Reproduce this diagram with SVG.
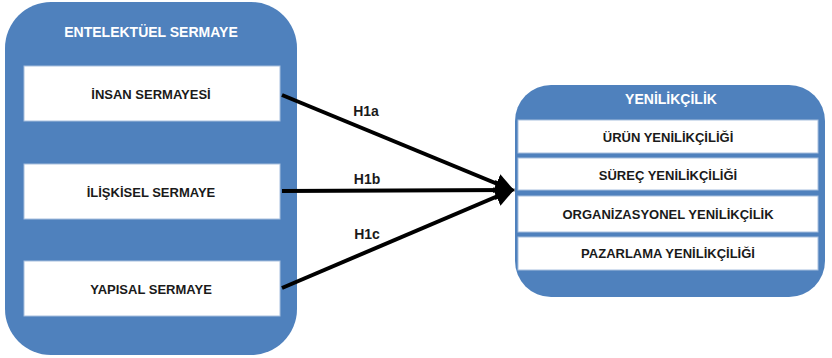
<svg xmlns="http://www.w3.org/2000/svg" width="832" height="358" viewBox="0 0 832 358">
<style>
.panel{fill:#4F81BD;}
.box{fill:#FFFFFF;stroke:#A7BFDE;stroke-width:1;}
.title{font-family:"Liberation Sans",Arial,sans-serif;font-weight:bold;font-size:14px;fill:#FFFFFF;text-anchor:middle;}
.lbl{font-family:"Liberation Sans",Arial,sans-serif;font-weight:bold;font-size:13px;fill:#1A1A1A;text-anchor:middle;}
.conn{stroke:#000000;stroke-width:4;fill:none;}
.hl{font-family:"Liberation Sans",Arial,sans-serif;font-weight:bold;font-size:14px;fill:#1A1A1A;text-anchor:middle;}
</style>
<defs>
<marker id="ah" markerWidth="5" markerHeight="5" refX="4.2" refY="2.5" orient="auto" markerUnits="strokeWidth">
<path d="M0,0 L5,2.5 L0,5 Z" fill="#000000"/>
</marker>
</defs>
<g id="entelektuel-sermaye">
<rect class="panel" x="5" y="2" width="292" height="353" rx="46" ry="46"/>
<text class="title" x="151" y="37">ENTELEKTÜEL SERMAYE</text>
</g>
<g id="insan-sermayesi">
<rect class="box" x="24" y="66" width="256" height="55"/>
<text class="lbl" x="151" y="99">İNSAN SERMAYESİ</text>
</g>
<g id="iliskisel-sermaye">
<rect class="box" x="24" y="164" width="256" height="55"/>
<text class="lbl" x="151" y="197">İLİŞKİSEL SERMAYE</text>
</g>
<g id="yapisal-sermaye">
<rect class="box" x="24" y="261" width="256" height="55"/>
<text class="lbl" x="151" y="294">YAPISAL SERMAYE</text>
</g>
<g id="yenilikcilik">
<rect class="panel" x="515" y="85" width="310" height="212" rx="36" ry="36"/>
<text class="title" x="671" y="104">YENİLİKÇİLİK</text>
</g>
<g id="urun-yenilikciligi">
<rect class="box" x="518" y="120" width="300" height="33"/>
<text class="lbl" x="668" y="142">ÜRÜN YENİLİKÇİLİĞİ</text>
</g>
<g id="surec-yenilikciligi">
<rect class="box" x="518" y="158" width="300" height="32"/>
<text class="lbl" x="668" y="180">SÜREÇ YENİLİKÇİLİĞİ</text>
</g>
<g id="organizasyonel-yenilikcilik">
<rect class="box" x="518" y="196" width="300" height="36"/>
<text class="lbl" x="668" y="219">ORGANİZASYONEL YENİLİKÇİLİK</text>
</g>
<g id="pazarlama-yenilikciligi">
<rect class="box" x="518" y="237" width="300" height="33"/>
<text class="lbl" x="668" y="258">PAZARLAMA YENİLİKÇİLİĞİ</text>
</g>
<g id="connectors">
<line class="conn" x1="282" y1="95" x2="512" y2="190" marker-end="url(#ah)"/>
<line class="conn" x1="282" y1="191" x2="512" y2="190" marker-end="url(#ah)"/>
<line class="conn" x1="282" y1="288" x2="512" y2="190" marker-end="url(#ah)"/>
<text class="hl" x="366" y="116">H1a</text>
<text class="hl" x="367" y="184">H1b</text>
<text class="hl" x="367" y="239">H1c</text>
</g>
</svg>
